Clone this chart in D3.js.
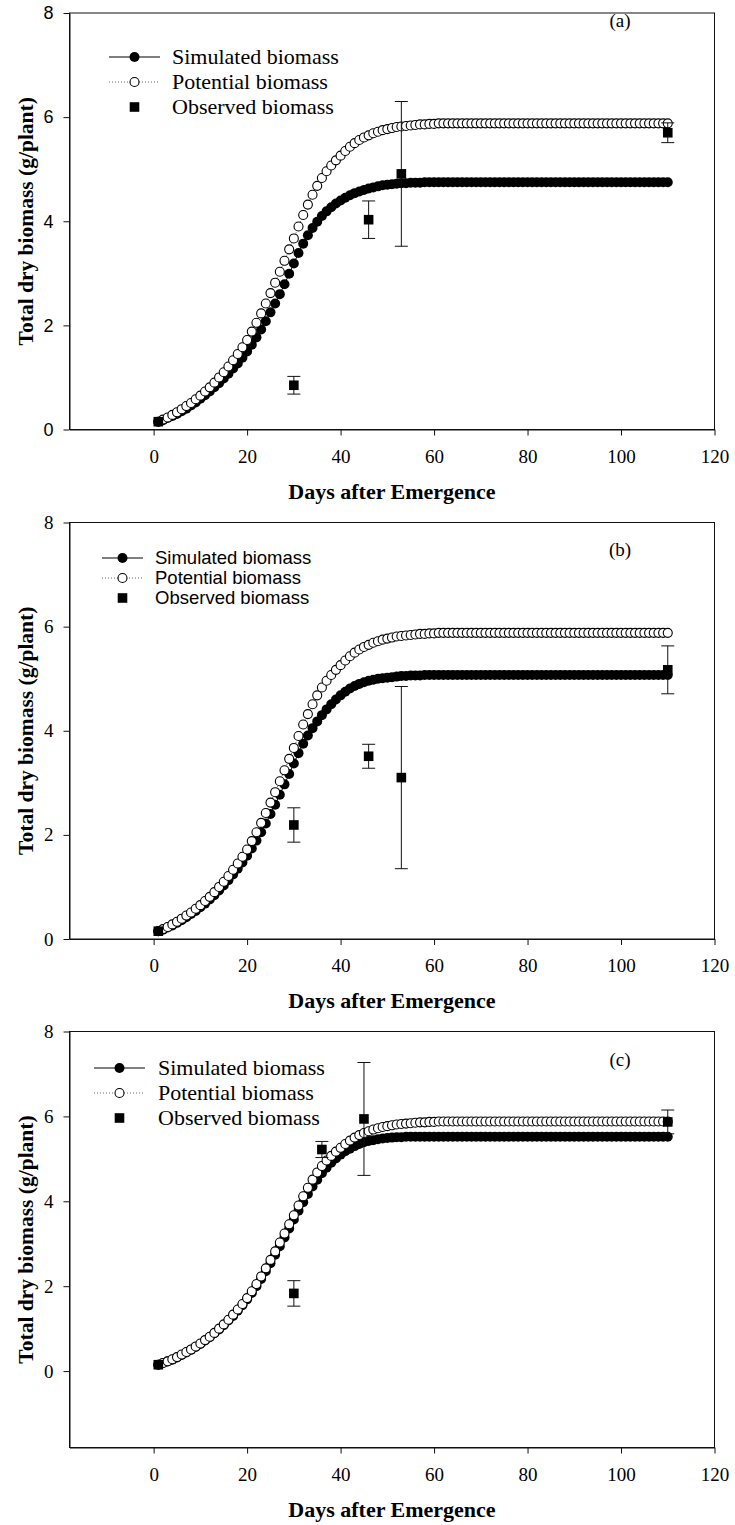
<!DOCTYPE html>
<html>
<head>
<meta charset="utf-8">
<script src="https://cdn.jsdelivr.net/npm/d3@7"></script>
<style>
  html, body { margin: 0; padding: 0; background: #fff; }
  svg { display: block; }
</style>
</head>
<body>
<svg id="chart" width="735" height="1525"></svg>
<script>
// Daily biomass (g/plant), days 1..110
const potential = [
  0.15, 0.19, 0.23, 0.28, 0.33, 0.39, 0.45, 0.51, 0.58, 0.65,
  0.73, 0.81, 0.90, 1.00, 1.10, 1.21, 1.33, 1.45, 1.58, 1.72,
  1.88, 2.05, 2.23, 2.42, 2.62, 2.82, 3.03, 3.24, 3.46, 3.67,
  3.90, 4.12, 4.32, 4.51, 4.68, 4.83, 4.96, 5.07, 5.17, 5.26,
  5.35, 5.43, 5.50, 5.56, 5.61, 5.65, 5.69, 5.72, 5.75, 5.77,
  5.79, 5.81, 5.82, 5.83, 5.84, 5.85, 5.86, 5.86, 5.87, 5.87,
  5.88, 5.88, 5.88, 5.88, 5.88, 5.88, 5.88, 5.88, 5.88, 5.88,
  5.88, 5.88, 5.88, 5.88, 5.88, 5.88, 5.88, 5.88, 5.88, 5.88,
  5.88, 5.88, 5.88, 5.88, 5.88, 5.88, 5.88, 5.88, 5.88, 5.88,
  5.88, 5.88, 5.88, 5.88, 5.88, 5.88, 5.88, 5.88, 5.88, 5.88,
  5.88, 5.88, 5.88, 5.88, 5.88, 5.88, 5.88, 5.88, 5.88, 5.88
];

const simulatedA = [
  0.15, 0.18, 0.22, 0.26, 0.30, 0.35, 0.40, 0.46, 0.52, 0.59,
  0.66, 0.73, 0.81, 0.89, 0.98, 1.07, 1.17, 1.27, 1.38, 1.50,
  1.63, 1.77, 1.92, 2.08, 2.25, 2.42, 2.60, 2.79, 2.99, 3.19,
  3.39, 3.57, 3.73, 3.87, 3.99, 4.10, 4.19, 4.27, 4.34, 4.40,
  4.45, 4.50, 4.54, 4.57, 4.60, 4.63, 4.65, 4.67, 4.69, 4.70,
  4.71, 4.72, 4.73, 4.73, 4.74, 4.74, 4.74, 4.75, 4.75, 4.75,
  4.75, 4.75, 4.75, 4.75, 4.75, 4.75, 4.75, 4.75, 4.75, 4.75,
  4.75, 4.75, 4.75, 4.75, 4.75, 4.75, 4.75, 4.75, 4.75, 4.75,
  4.75, 4.75, 4.75, 4.75, 4.75, 4.75, 4.75, 4.75, 4.75, 4.75,
  4.75, 4.75, 4.75, 4.75, 4.75, 4.75, 4.75, 4.75, 4.75, 4.75,
  4.75, 4.75, 4.75, 4.75, 4.75, 4.75, 4.75, 4.75, 4.75, 4.75
];

const simulatedB = [
  0.15, 0.18, 0.22, 0.26, 0.31, 0.36, 0.42, 0.48, 0.54, 0.61,
  0.68, 0.76, 0.84, 0.93, 1.03, 1.13, 1.24, 1.35, 1.47, 1.60,
  1.74, 1.89, 2.05, 2.22, 2.40, 2.58, 2.77, 2.97, 3.17, 3.37,
  3.57, 3.75, 3.91, 4.05, 4.18, 4.30, 4.41, 4.51, 4.60, 4.68,
  4.75, 4.81, 4.86, 4.90, 4.93, 4.96, 4.98, 5.00, 5.01, 5.02,
  5.03, 5.04, 5.05, 5.05, 5.06, 5.06, 5.06, 5.07, 5.07, 5.07,
  5.07, 5.07, 5.07, 5.07, 5.07, 5.07, 5.07, 5.07, 5.07, 5.07,
  5.07, 5.07, 5.07, 5.07, 5.07, 5.07, 5.07, 5.07, 5.07, 5.07,
  5.07, 5.07, 5.07, 5.07, 5.07, 5.07, 5.07, 5.07, 5.07, 5.07,
  5.07, 5.07, 5.07, 5.07, 5.07, 5.07, 5.07, 5.07, 5.07, 5.07,
  5.07, 5.07, 5.07, 5.07, 5.07, 5.07, 5.07, 5.07, 5.07, 5.07
];

const simulatedC = [
  0.15, 0.19, 0.23, 0.27, 0.32, 0.38, 0.44, 0.50, 0.57, 0.64,
  0.72, 0.80, 0.89, 0.98, 1.08, 1.19, 1.30, 1.42, 1.55, 1.69,
  1.84, 2.00, 2.17, 2.35, 2.54, 2.74, 2.94, 3.15, 3.36, 3.57,
  3.78, 3.98, 4.17, 4.35, 4.51, 4.66, 4.79, 4.91, 5.01, 5.10,
  5.18, 5.24, 5.30, 5.35, 5.39, 5.42, 5.44, 5.46, 5.48, 5.49,
  5.50, 5.51, 5.51, 5.52, 5.52, 5.52, 5.52, 5.52, 5.52, 5.52,
  5.52, 5.52, 5.52, 5.52, 5.52, 5.52, 5.52, 5.52, 5.52, 5.52,
  5.52, 5.52, 5.52, 5.52, 5.52, 5.52, 5.52, 5.52, 5.52, 5.52,
  5.52, 5.52, 5.52, 5.52, 5.52, 5.52, 5.52, 5.52, 5.52, 5.52,
  5.52, 5.52, 5.52, 5.52, 5.52, 5.52, 5.52, 5.52, 5.52, 5.52,
  5.52, 5.52, 5.52, 5.52, 5.52, 5.52, 5.52, 5.52, 5.52, 5.52
];

// Field observations: sampling day, mean, standard error
const obsDaysAB = [1, 30, 46, 53, 110];
const obsDaysC  = [1, 30, 36, 45, 110];
const observedA = [0.15, 0.85, 4.03, 4.91, 5.70];
const errA      = [0, 0.17, 0.36, 1.39, 0.19];
const observedB = [0.15, 2.19, 3.51, 3.10, 5.17];
const errB      = [0, 0.33, 0.23, 1.75, 0.46];
const observedC = [0.15, 1.83, 5.22, 5.94, 5.87];
const errC      = [0, 0.30, 0.19, 1.33, 0.28];

const xTicks = [0, 20, 40, 60, 80, 100, 120];
const yTicks = [0, 2, 4, 6, 8];
const legendLabels = ["Simulated biomass", "Potential biomass", "Observed biomass"];
const xTitle = "Days after Emergence";
const yTitle = "Total dry biomass (g/plant)";

const SERIF = "'Liberation Serif','Times New Roman',Times,serif";
const SANS = "'Liberation Sans',Arial,Helvetica,sans-serif";

const panels = [
  { tag: "(a)", top: 13, bottom: 429.5, yDomain: [0, 8], sim: simulatedA,
    obsDays: obsDaysAB, obs: observedA, err: errA, yTickFont: SANS, yTickSize: 18,
    legend: { font: SERIF, size: 22, x0: 109, x1: 160, text: 172, rows: [57, 82, 107] },
    tagPos: [620, 27] },
  { tag: "(b)", top: 522.5, bottom: 939, yDomain: [0, 8], sim: simulatedB,
    obsDays: obsDaysAB, obs: observedB, err: errB, yTickFont: SERIF, yTickSize: 19,
    legend: { font: SANS, size: 18.5, x0: 102, x1: 143, text: 155, rows: [558, 578, 598] },
    tagPos: [620, 556] },
  { tag: "(c)", top: 1031.5, bottom: 1447.5, yDomain: [-1.8, 8], sim: simulatedC,
    obsDays: obsDaysC, obs: observedC, err: errC, yTickFont: SERIF, yTickSize: 19,
    legend: { font: SERIF, size: 22, x0: 94, x1: 145, text: 158, rows: [1068, 1093, 1118] },
    tagPos: [620, 1066] }
];

const svg = d3.select("#chart");
const left = 69.5, right = 714.5;
const x = d3.scaleLinear().domain([-18, 120]).range([left, right]);
const days = potential.map((_, i) => i + 1);

const R_FILLED = 5, R_OPEN = 4.5;

panels.forEach(p => {
  const y = d3.scaleLinear().domain(p.yDomain).range([p.bottom, p.top]);
  const g = svg.append("g");

  // frame (top and right edges)
  g.append("rect")
    .attr("x", left).attr("y", p.top)
    .attr("width", right - left).attr("height", p.bottom - p.top)
    .attr("fill", "none").attr("stroke", "#111").attr("stroke-width", 1);

  // axes
  const ax = g.append("g").attr("transform", `translate(0,${p.bottom})`)
    .call(d3.axisBottom(x).tickValues(xTicks).tickSize(6).tickSizeOuter(0).tickPadding(14));
  ax.selectAll("text").attr("font-family", SERIF).attr("font-size", 19).attr("fill", "#000");
  const ay = g.append("g").attr("transform", `translate(${left},0)`)
    .call(d3.axisLeft(y).tickValues(yTicks).tickSize(6).tickSizeOuter(0).tickPadding(10));
  ay.selectAll("text").attr("font-family", p.yTickFont).attr("font-size", p.yTickSize).attr("fill", "#000");
  g.selectAll(".domain").attr("stroke", "#111");
  g.selectAll(".tick line").attr("stroke", "#111");

  // axis titles
  g.append("text")
    .attr("x", (left + right) / 2).attr("y", p.bottom + 69)
    .attr("text-anchor", "middle")
    .attr("font-family", SERIF).attr("font-weight", "bold").attr("font-size", 22)
    .text(xTitle);
  g.append("text")
    .attr("transform", `translate(33,${(p.top + p.bottom) / 2}) rotate(-90)`)
    .attr("text-anchor", "middle")
    .attr("font-family", SERIF).attr("font-weight", "bold").attr("font-size", 21.5)
    .text(yTitle);

  // panel tag
  g.append("text")
    .attr("x", p.tagPos[0]).attr("y", p.tagPos[1])
    .attr("text-anchor", "middle")
    .attr("font-family", SERIF).attr("font-size", 19)
    .text(p.tag);

  // simulated: solid line + filled circles
  const line = d3.line().x((d, i) => x(days[i])).y(d => y(d));
  g.append("path").datum(p.sim).attr("d", line)
    .attr("fill", "none").attr("stroke", "#000").attr("stroke-width", 1);
  g.append("g").selectAll("circle").data(p.sim).join("circle")
    .attr("cx", (d, i) => x(days[i])).attr("cy", d => y(d))
    .attr("r", R_FILLED).attr("fill", "#000");

  // potential: dotted line + open circles
  g.append("path").datum(potential).attr("d", line)
    .attr("fill", "none").attr("stroke", "#555").attr("stroke-width", 1)
    .attr("stroke-dasharray", "1,2");
  g.append("g").selectAll("circle").data(potential).join("circle")
    .attr("cx", (d, i) => x(days[i])).attr("cy", d => y(d))
    .attr("r", R_OPEN).attr("fill", "#fff").attr("stroke", "#000").attr("stroke-width", 1.1);

  // observed: error bars + squares
  const obs = p.obs.map((v, i) => ({ day: p.obsDays[i], v, e: p.err[i] }));
  const eb = g.append("g").attr("stroke", "#111").attr("stroke-width", 1);
  obs.filter(d => d.e > 0).forEach(d => {
    const cx = x(d.day);
    eb.append("line").attr("x1", cx).attr("x2", cx).attr("y1", y(d.v + d.e)).attr("y2", y(d.v - d.e));
    eb.append("line").attr("x1", cx - 6.5).attr("x2", cx + 6.5).attr("y1", y(d.v + d.e)).attr("y2", y(d.v + d.e));
    eb.append("line").attr("x1", cx - 6.5).attr("x2", cx + 6.5).attr("y1", y(d.v - d.e)).attr("y2", y(d.v - d.e));
  });
  g.append("g").selectAll("rect").data(obs).join("rect")
    .attr("x", d => x(d.day) - 4.8).attr("y", d => y(d.v) - 4.8)
    .attr("width", 9.6).attr("height", 9.6).attr("fill", "#000");

  // legend
  const L = p.legend, mx = (L.x0 + L.x1) / 2;
  const lg = g.append("g");
  lg.append("line").attr("x1", L.x0).attr("x2", L.x1).attr("y1", L.rows[0]).attr("y2", L.rows[0])
    .attr("stroke", "#000").attr("stroke-width", 1);
  lg.append("circle").attr("cx", mx).attr("cy", L.rows[0]).attr("r", R_FILLED).attr("fill", "#000");
  lg.append("line").attr("x1", L.x0).attr("x2", L.x1).attr("y1", L.rows[1]).attr("y2", L.rows[1])
    .attr("stroke", "#666").attr("stroke-width", 1).attr("stroke-dasharray", "1,2");
  lg.append("circle").attr("cx", mx).attr("cy", L.rows[1]).attr("r", R_OPEN)
    .attr("fill", "#fff").attr("stroke", "#000").attr("stroke-width", 1.1);
  lg.append("rect").attr("x", mx - 4.8).attr("y", L.rows[2] - 4.8)
    .attr("width", 9.6).attr("height", 9.6).attr("fill", "#000");
  legendLabels.forEach((t, i) => {
    lg.append("text").attr("x", L.text).attr("y", L.rows[i]).attr("dy", "0.33em")
      .attr("font-family", L.font).attr("font-size", L.size).text(t);
  });
});
</script>
</body>
</html>
